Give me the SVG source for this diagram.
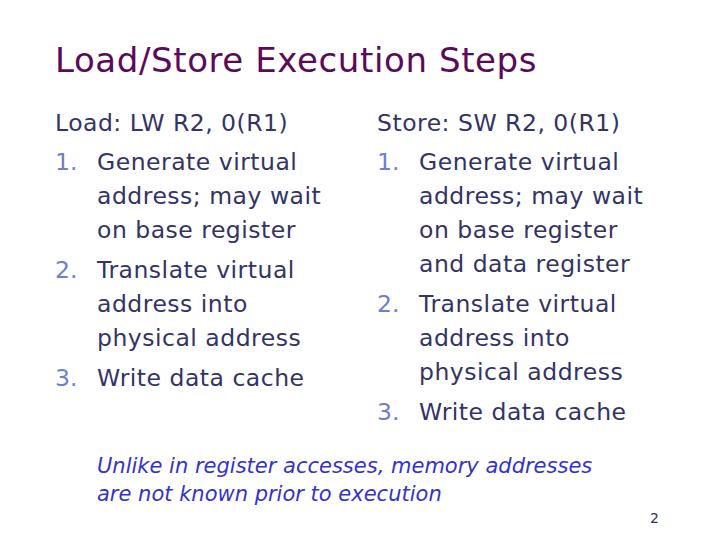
<svg xmlns="http://www.w3.org/2000/svg" width="720" height="540" viewBox="0 0 720 540">
<style>
text{font-family:"DejaVu Sans","Noto Sans",sans-serif}
.t{font-size:34px;fill:#5a0a5a;letter-spacing:0.6px}
.b{font-size:23.5px;fill:#333366;letter-spacing:0.5px}
.n{font-size:23.5px;fill:#6f7fd0}
.i{font-size:21px;fill:#3333cc;font-style:italic}
</style>
<rect width="720" height="540" fill="#fff"/>
<text class="t" x="55" y="72">Load/Store Execution Steps</text>
<g id="left">
<text class="b" x="55" y="131">Load: LW R2, 0(R1)</text>
<text class="n" x="55" y="170">1.</text><text class="b" x="97" y="170">Generate virtual</text>
<text class="b" x="97" y="204">address; may wait</text>
<text class="b" x="97" y="238">on base register</text>
<text class="n" x="55" y="278">2.</text><text class="b" x="97" y="278">Translate virtual</text>
<text class="b" x="97" y="312">address into</text>
<text class="b" x="97" y="346">physical address</text>
<text class="n" x="55" y="386">3.</text><text class="b" x="97" y="386">Write data cache</text>
</g>
<g id="right">
<text class="b" x="377" y="131">Store: SW R2, 0(R1)</text>
<text class="n" x="377" y="170">1.</text><text class="b" x="419" y="170">Generate virtual</text>
<text class="b" x="419" y="204">address; may wait</text>
<text class="b" x="419" y="238">on base register</text>
<text class="b" x="419" y="272">and data register</text>
<text class="n" x="377" y="312">2.</text><text class="b" x="419" y="312">Translate virtual</text>
<text class="b" x="419" y="346">address into</text>
<text class="b" x="419" y="380">physical address</text>
<text class="n" x="377" y="420">3.</text><text class="b" x="419" y="420">Write data cache</text>
</g>
<text class="i" x="97" y="473">Unlike in register accesses, memory addresses</text>
<text class="i" x="97" y="501">are not known prior to execution</text>
<text x="650" y="523" style="font-size:14px;fill:#333366">2</text>
</svg>
